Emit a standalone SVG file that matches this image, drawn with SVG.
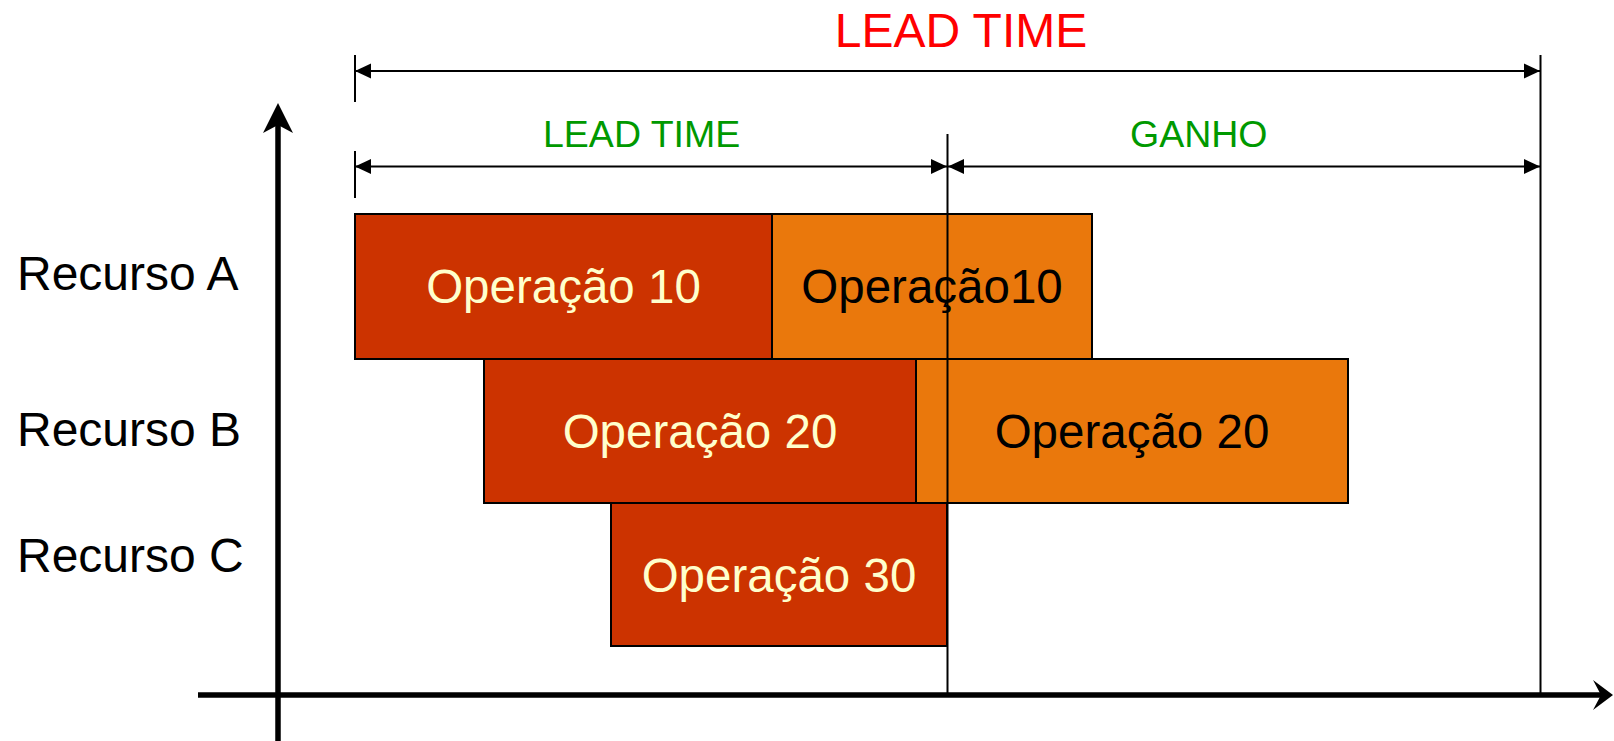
<svg xmlns="http://www.w3.org/2000/svg" width="1614" height="741" viewBox="0 0 1614 741">
  <style>
    .lbl { font-family: "Liberation Sans", Arial, sans-serif; }
    .res { font-size: 48px; fill: #000000; }
    .op { font-size: 47.5px; text-anchor: middle; }
    .op-dark { fill: #CC3300; stroke: #000000; stroke-width: 2; }
    .op-light { fill: #EA780C; stroke: #000000; stroke-width: 2; }
    .txt-light { fill: #FFFFCC; }
    .txt-dark { fill: #000000; }
    .dim { stroke: #000000; stroke-width: 2; fill: none; }
    .axis { stroke: #000000; stroke-width: 5.5; fill: none; }
    .green { font-size: 37.5px; fill: #009900; }
  </style>
  <defs>
    <marker id="dimHead" markerUnits="userSpaceOnUse" markerWidth="18" markerHeight="16" refX="16" refY="8" orient="auto-start-reverse">
      <path d="M0,0.5 L16,8 L0,15.5 Z" fill="#000000"/>
    </marker>
  </defs>

  <!-- title -->
  <text class="lbl" x="961" y="47" font-size="48" fill="#FF0000" text-anchor="middle">LEAD TIME</text>

  <!-- resource labels -->
  <g id="label-recurso-a"><text class="lbl res" x="17" y="290">Recurso A</text></g>
  <g id="label-recurso-b"><text class="lbl res" x="17" y="446">Recurso B</text></g>
  <g id="label-recurso-c"><text class="lbl res" x="17" y="572">Recurso C</text></g>

  <!-- operation blocks -->
  <g id="op10-a">
    <rect class="op-dark" x="355" y="214" width="417" height="145"/>
    <text class="lbl op txt-light" x="563.5" y="303">Operação 10</text>
  </g>
  <g id="op10-b">
    <rect class="op-light" x="772" y="214" width="320" height="145"/>
    <text class="lbl op txt-dark" x="932" y="303">Operação10</text>
  </g>
  <g id="op20-a">
    <rect class="op-dark" x="484" y="359" width="432" height="144"/>
    <text class="lbl op txt-light" x="700" y="448">Operação 20</text>
  </g>
  <g id="op20-b">
    <rect class="op-light" x="916" y="359" width="432" height="144"/>
    <text class="lbl op txt-dark" x="1132" y="448">Operação 20</text>
  </g>
  <g id="op30">
    <rect class="op-dark" x="611" y="503" width="336" height="143"/>
    <text class="lbl op txt-light" x="779" y="592">Operação 30</text>
  </g>

  <!-- dimension labels -->
  <g id="label-lead-time"><text class="lbl green" x="543" y="147">LEAD TIME</text></g>
  <g id="label-ganho"><text class="lbl green" x="1130" y="147">GANHO</text></g>

  <!-- connectors: axes, ticks and dimension arrows -->
  <g id="connectors">
    <!-- axes -->
    <line class="axis" x1="278" y1="124" x2="278" y2="741"/>
    <path d="M278,103 L293,133 L278,125 L263,133 Z" fill="#000000"/>
    <line class="axis" x1="198" y1="695" x2="1604" y2="695"/>
    <path d="M1613,695 L1593,680 L1601,695 L1593,710 Z" fill="#000000"/>

    <!-- ticks and reference lines -->
    <line class="dim" x1="355" y1="55" x2="355" y2="102"/>
    <line class="dim" x1="355" y1="151" x2="355" y2="198"/>
    <line class="dim" stroke-width="2.5" x1="947.5" y1="134" x2="947.5" y2="695"/>
    <line class="dim" stroke-width="2.5" x1="1540.5" y1="55" x2="1540.5" y2="695"/>

    <!-- dimension arrows -->
    <line class="dim" x1="355" y1="71" x2="1540" y2="71" marker-start="url(#dimHead)" marker-end="url(#dimHead)"/>
    <line class="dim" x1="355" y1="166.5" x2="947" y2="166.5" marker-start="url(#dimHead)" marker-end="url(#dimHead)"/>
    <line class="dim" x1="948" y1="166.5" x2="1540" y2="166.5" marker-start="url(#dimHead)" marker-end="url(#dimHead)"/>
  </g>
</svg>
